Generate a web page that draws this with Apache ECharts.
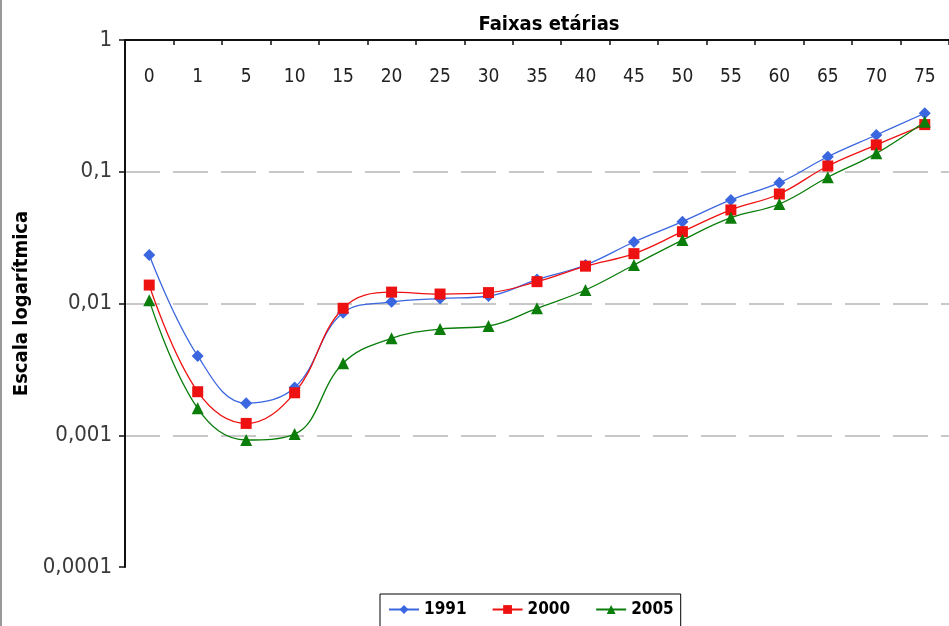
<!DOCTYPE html>
<html>
<head>
<meta charset="utf-8">
<script src="https://cdn.jsdelivr.net/npm/echarts@6/dist/echarts.min.js"></script>
<style>
  html, body { margin: 0; padding: 0; background: #fff; }
  #chart { width: 949px; height: 626px; }
</style>
</head>
<body>
<div id="chart"></div>
<script>
// Age groups (years)
const ageGroups = ['0', '1', '5', '10', '15', '20', '25', '30', '35', '40', '45', '50', '55', '60', '65', '70', '75'];

// Rates per age group, one array per year
const rates1991 = [0.0233, 0.0040, 0.00175, 0.0023, 0.0085, 0.0103, 0.0109, 0.0114, 0.0152, 0.0196, 0.0293, 0.0418, 0.0611, 0.0826, 0.130, 0.190, 0.278];
const rates2000 = [0.0138, 0.00214, 0.00123, 0.0021, 0.0092, 0.0122, 0.0118, 0.0121, 0.01465, 0.0192, 0.0239, 0.0351, 0.0513, 0.0678, 0.1106, 0.160, 0.228];
const rates2005 = [0.0106, 0.0016, 0.00092, 0.00102, 0.00352, 0.00544, 0.0064, 0.00675, 0.0092, 0.01266, 0.0196, 0.0303, 0.0448, 0.0569, 0.0908, 0.138, 0.240];

const seriesNames = ['1991', '2000', '2005'];

// Log-axis tick labels, from 10^-4 up to 10^0
const yTickLabels = ['0,0001', '0,001', '0,01', '0,1', '1'];

const FONT = '"DejaVu Sans Condensed", "DejaVu Sans", sans-serif';

const chart = echarts.init(document.getElementById('chart'), null, { renderer: 'canvas' });

function lineSeries(name, data, color, symbol, size) {
  return {
    name: name,
    type: 'line',
    data: data,
    smooth: 0.4,
    symbol: symbol,
    symbolSize: size,
    itemStyle: { color: color },
    lineStyle: { color: color, width: 1.3 },
    z: 3
  };
}

chart.setOption({
  backgroundColor: '#ffffff',
  animation: false,
  // plot area runs past the right edge of the canvas
  grid: { left: 125, top: 40, width: 833, bottom: 59, containLabel: false },
  legend: {
    data: seriesNames,
    top: 594,
    left: 380,
    orient: 'horizontal',
    borderColor: '#000',
    borderWidth: 1,
    padding: [7, 7, 12, 8],
    itemGap: 25,
    itemWidth: 30,
    itemHeight: 11,
    textStyle: { fontFamily: FONT, fontSize: 17, fontWeight: 'bold', color: '#000' }
  },
  xAxis: {
    type: 'category',
    data: ageGroups,
    position: 'top',
    boundaryGap: true,
    name: 'Faixas etárias',
    nameLocation: 'middle',
    nameGap: 3,
    nameTextStyle: { fontFamily: FONT, fontSize: 20, fontWeight: 'bold', color: '#000', padding: [0, 0, 0, 24] },
    axisLine: { show: true, lineStyle: { color: '#111', width: 2 } },
    axisTick: { show: true, inside: true, length: 5, lineStyle: { color: '#111', width: 1.5 } },
    axisLabel: { inside: true, margin: 28, fontFamily: FONT, fontSize: 19, color: '#222' },
    splitLine: { show: false }
  },
  yAxis: {
    type: 'log',
    logBase: 10,
    min: 0.0001,
    max: 1,
    name: 'Escala logarítmica',
    nameLocation: 'middle',
    nameGap: 92,
    nameRotate: 90,
    nameTextStyle: { fontFamily: FONT, fontSize: 20, fontWeight: 'bold', color: '#000' },
    axisLine: { show: true, lineStyle: { color: '#111', width: 2 } },
    axisTick: { show: true, inside: false, length: 6, lineStyle: { color: '#111', width: 1.5 } },
    axisLabel: {
      margin: 13,
      fontFamily: FONT,
      fontSize: 22,
      color: '#3a3a3a',
      formatter: function (v) {
        const idx = Math.round(Math.log10(v)) + 4;
        return yTickLabels[idx] !== undefined ? yTickLabels[idx] : '';
      }
    },
    splitLine: {
      show: true,
      showMinLine: false,
      showMaxLine: false,
      lineStyle: { color: '#c8c8c8', width: 2, type: [35, 13] }
    }
  },
  graphic: [
    {
      type: 'line',
      shape: { x1: 1, y1: 0, x2: 1, y2: 626 },
      style: { stroke: '#9a9a9a', lineWidth: 2 },
      silent: true
    }
  ],
  series: [
    lineSeries(seriesNames[0], rates1991, '#3a66e0', 'diamond', 12),
    lineSeries(seriesNames[1], rates2000, '#ee1111', 'rect', 11),
    lineSeries(seriesNames[2], rates2005, '#0a7d0a', 'triangle', 12)
  ]
});
</script>
</body>
</html>
